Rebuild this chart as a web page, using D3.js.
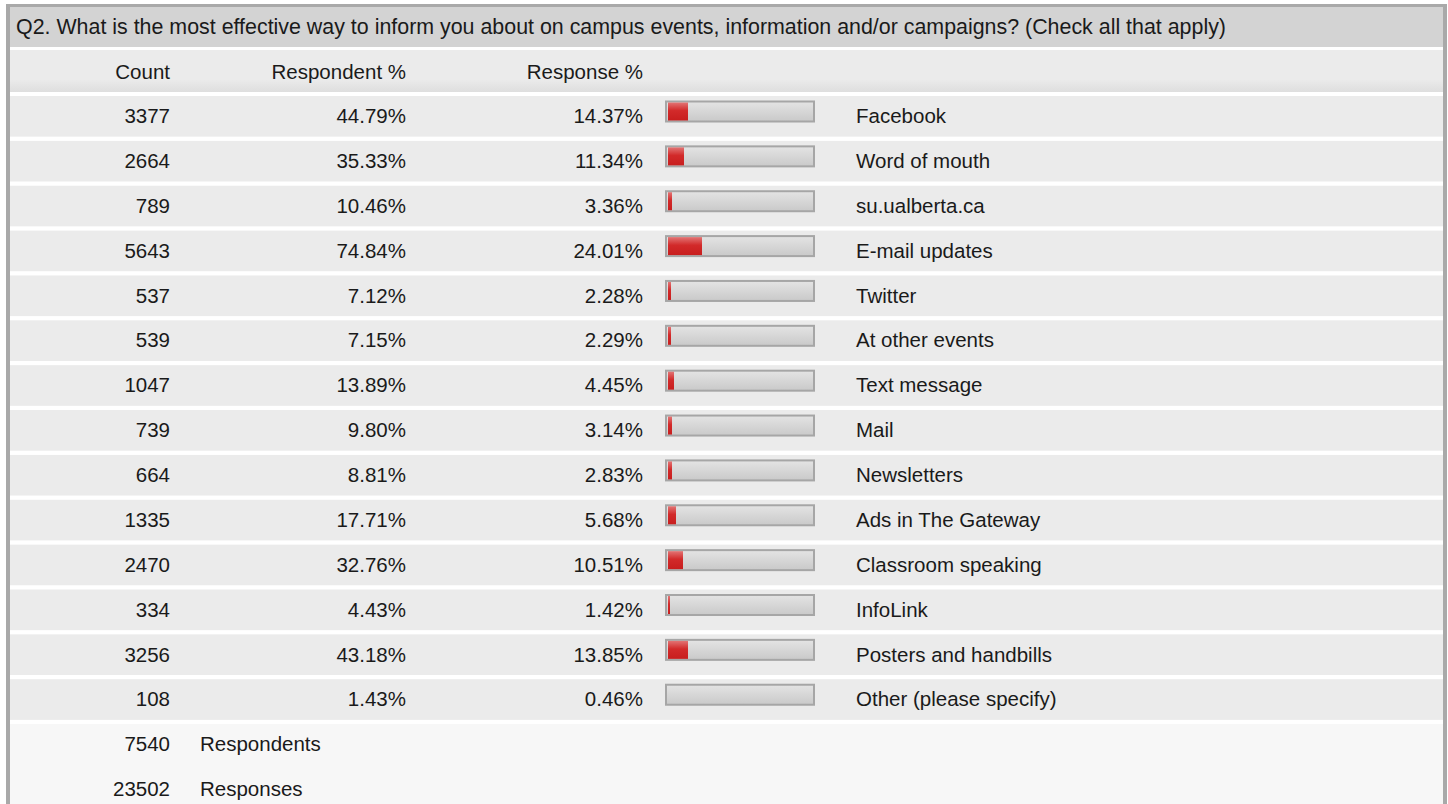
<!DOCTYPE html>
<html>
<head>
<meta charset="utf-8">
<script src="https://cdn.jsdelivr.net/npm/d3@7"></script>
<style>
  body { margin: 0; background: #fff; }
  svg text { font-family: "Liberation Sans", Arial, sans-serif; font-size: 20.5px; fill: #1a1a1a; }
</style>
</head>
<body>
<div id="chart"></div>
<script>
const title = "Q2. What is the most effective way to inform you about on campus events, information and/or campaigns? (Check all that apply)";
const headers = ["Count", "Respondent %", "Response %"];
const categories = ["Facebook", "Word of mouth", "su.ualberta.ca", "E-mail updates", "Twitter", "At other events",
  "Text message", "Mail", "Newsletters", "Ads in The Gateway", "Classroom speaking", "InfoLink",
  "Posters and handbills", "Other (please specify)"];
const counts = [3377, 2664, 789, 5643, 537, 539, 1047, 739, 664, 1335, 2470, 334, 3256, 108];
const respondentPct = [44.79, 35.33, 10.46, 74.84, 7.12, 7.15, 13.89, 9.80, 8.81, 17.71, 32.76, 4.43, 43.18, 1.43];
const responsePct = [14.37, 11.34, 3.36, 24.01, 2.28, 2.29, 4.45, 3.14, 2.83, 5.68, 10.51, 1.42, 13.85, 0.46];
const totals = [[7540, "Respondents"], [23502, "Responses"]];

const width = 1448, height = 804;
const svg = d3.select("#chart").append("svg")
  .attr("width", width)
  .attr("height", height);

const defs = svg.append("defs");
const hdrGrad = defs.append("linearGradient").attr("id", "hdrGrad").attr("x1", 0).attr("y1", 0).attr("x2", 0).attr("y2", 1);
hdrGrad.append("stop").attr("offset", "0.7").attr("stop-color", "#ebebeb");
hdrGrad.append("stop").attr("offset", "1").attr("stop-color", "#dedede");
const trackGrad = defs.append("linearGradient").attr("id", "trackGrad").attr("x1", 0).attr("y1", 0).attr("x2", 0).attr("y2", 1);
trackGrad.append("stop").attr("offset", "0").attr("stop-color", "#e4e4e4");
trackGrad.append("stop").attr("offset", "1").attr("stop-color", "#c9c9c9");
const redGrad = defs.append("linearGradient").attr("id", "redGrad").attr("x1", 0).attr("y1", 0).attr("x2", 0).attr("y2", 1);
redGrad.append("stop").attr("offset", "0").attr("stop-color", "#e27474");
redGrad.append("stop").attr("offset", "0.45").attr("stop-color", "#d22a2a");
redGrad.append("stop").attr("offset", "1").attr("stop-color", "#c81e1e");

// outer frame
const left = 10, right = 1443;
svg.append("rect").attr("x", 6).attr("y", 4).attr("width", 1441).attr("height", 810).attr("fill", "#a9a9a9");
svg.append("rect").attr("x", left).attr("y", 7).attr("width", right - left).attr("height", 810).attr("fill", "#fff");

// title row
svg.append("rect").attr("x", left).attr("y", 7).attr("width", right - left).attr("height", 40).attr("fill", "#d3d3d3");
svg.append("text").attr("x", 16).attr("y", 27).attr("dy", "0.35em").style("font-size", "21.4px").text(title);

// header row
svg.append("rect").attr("x", left).attr("y", 50).attr("width", right - left).attr("height", 42).attr("fill", "url(#hdrGrad)");
const colX = [170, 406, 643];
headers.forEach((h, i) => {
  svg.append("text").attr("x", colX[i]).attr("y", 72).attr("dy", "0.35em").attr("text-anchor", "end").text(h);
});

// body rows
const nRows = categories.length + totals.length;
const y = d3.scaleBand()
  .domain(d3.range(nRows))
  .range([96, 96 + nRows * 44.6])
  .paddingInner(4.2 / 44.6)
  .paddingOuter(0);

const x = d3.scaleLinear().domain([0, 100]).range([668, 813]);

const rows = svg.append("g").selectAll("g.row")
  .data(categories.map((c, i) => ({ cat: c, count: counts[i], rp: respondentPct[i], sp: responsePct[i], i })))
  .join("g")
  .attr("class", "row")
  .attr("transform", d => `translate(0,${y(d.i)})`);

rows.append("rect").attr("x", left).attr("width", right - left).attr("height", y.bandwidth()).attr("fill", "#ebebeb");
rows.append("text").attr("x", colX[0]).attr("y", 20).attr("dy", "0.35em").attr("text-anchor", "end").text(d => d.count);
rows.append("text").attr("x", colX[1]).attr("y", 20).attr("dy", "0.35em").attr("text-anchor", "end").text(d => d.rp.toFixed(2) + "%");
rows.append("text").attr("x", colX[2]).attr("y", 20).attr("dy", "0.35em").attr("text-anchor", "end").text(d => d.sp.toFixed(2) + "%");
rows.append("rect")
  .attr("x", x(0) - 2).attr("y", 5.5)
  .attr("width", x(100) - x(0) + 3).attr("height", 20)
  .attr("fill", "url(#trackGrad)")
  .attr("stroke", "#a6a6a6").attr("stroke-width", 2);
// bar widths snap to whole pixels, so tiny shares show nothing
rows.append("rect")
  .attr("x", x(0)).attr("y", 6.5)
  .attr("width", d => Math.floor(x(d.sp) - x(0))).attr("height", 18)
  .attr("fill", "url(#redGrad)");
rows.append("text").attr("x", 856).attr("y", 20).attr("dy", "0.35em").text(d => d.cat);

// totals
const tot = svg.append("g").selectAll("g.tot")
  .data(totals)
  .join("g")
  .attr("transform", (d, i) => `translate(0,${y(categories.length + i)})`);
tot.append("rect").attr("x", left).attr("width", right - left).attr("height", y.bandwidth() + 20).attr("fill", "#f7f7f7");
tot.append("text").attr("x", colX[0]).attr("y", 20).attr("dy", "0.35em").attr("text-anchor", "end").text(d => d[0]);
tot.append("text").attr("x", 200).attr("y", 20).attr("dy", "0.35em").text(d => d[1]);
</script>
</body>
</html>
